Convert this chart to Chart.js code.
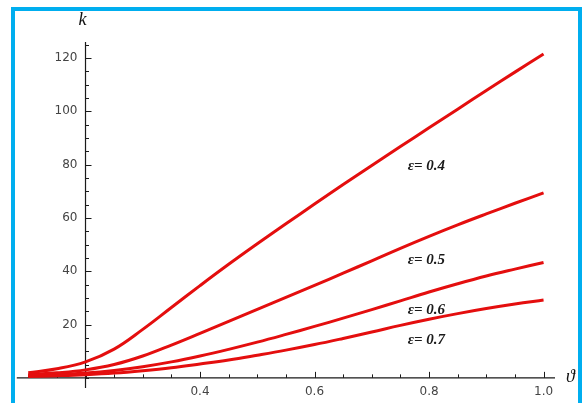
<!DOCTYPE html>
<html>
<head>
<meta charset="utf-8">
<script src="https://cdn.jsdelivr.net/npm/chart.js@4/dist/chart.umd.min.js"></script>
<style>
  html, body { margin: 0; padding: 0; background: #ffffff; }
  #wrap { position: relative; width: 582px; height: 403px; }
</style>
</head>
<body>
<div id="wrap"><canvas id="chart" width="582" height="403"></canvas></div>
<script>
// θ values along the horizontal axis
const theta = [0.10, 0.15, 0.20, 0.25, 0.30, 0.35, 0.40, 0.45, 0.50, 0.55,
               0.60, 0.65, 0.70, 0.75, 0.80, 0.85, 0.90, 0.95, 1.00];

// k for each ε
const kEps04 = [1.9, 3.4, 6.0, 10.8, 18.2, 26.4, 34.6, 42.6, 50.3, 57.8,
                65.2, 72.5, 79.7, 86.8, 93.8, 100.8, 107.8, 114.7, 121.5];
const kEps05 = [1.2, 1.9, 3.0, 5.0, 8.2, 12.3, 16.7, 21.2, 25.7, 30.2,
                34.7, 39.3, 43.9, 48.6, 53.1, 57.4, 61.5, 65.5, 69.4];
const kEps06 = [0.8, 1.2, 1.8, 2.8, 4.2, 6.0, 8.2, 10.7, 13.4, 16.3,
                19.3, 22.4, 25.6, 28.9, 32.2, 35.3, 38.2, 40.8, 43.3];
const kEps07 = [0.5, 0.8, 1.2, 1.8, 2.7, 3.8, 5.2, 6.7, 8.5, 10.4,
                12.5, 14.8, 17.2, 19.7, 22.0, 24.1, 26.0, 27.7, 29.2];

const seriesNames = ['ε= 0.4', 'ε= 0.5', 'ε= 0.6', 'ε= 0.7'];
// where each series name starts, in (θ, k)
const nameTheta = [0.763, 0.763, 0.763, 0.763];
const nameK = [79.3, 44.3, 25.5, 14.3];

// axis ticks
const xMajorTicks = [0.2, 0.4, 0.6, 0.8, 1.0];
const xTickLabels = [0.4, 0.6, 0.8, 1.0];
const yMajorTicks = [20, 40, 60, 80, 100, 120];
const yTickLabels = [20, 40, 60, 80, 100, 120];
const xMinorStep = 0.05;
const yMinorStep = 5;

const AXIS_THETA = 0.2;   // vertical axis crosses here
const AXIS_K = 0;         // horizontal axis crosses here

function toPoints(ys) {
  return theta.map((t, i) => ({ x: t, y: ys[i] }));
}

const frame = {
  id: 'frame',
  beforeDraw(chart) {
    const ctx = chart.ctx;
    ctx.save();
    ctx.fillStyle = '#ffffff';
    ctx.fillRect(0, 0, chart.width, chart.height);
    ctx.strokeStyle = '#00aeef';
    ctx.lineWidth = 4;
    ctx.strokeRect(13, 9, 567, 420);
    ctx.restore();
  }
};

const axes = {
  id: 'axes',
  beforeDatasetsDraw(chart) {
    const ctx = chart.ctx;
    const xs = chart.scales.x, ys = chart.scales.y;
    const area = chart.chartArea;
    const x0 = xs.getPixelForValue(AXIS_THETA);
    const y0 = ys.getPixelForValue(AXIS_K);
    ctx.save();
    ctx.strokeStyle = '#1a1a1a';
    ctx.lineWidth = 1.2;
    ctx.beginPath();
    ctx.moveTo(area.left, y0); ctx.lineTo(area.right, y0);
    ctx.moveTo(x0, area.top); ctx.lineTo(x0, area.bottom);
    ctx.stroke();

    // x ticks (pointing up)
    ctx.lineWidth = 1;
    ctx.beginPath();
    const xMinN = Math.ceil(xs.min / xMinorStep - 1e-6);
    const xMaxN = Math.floor(xs.max / xMinorStep + 1e-6);
    for (let n = xMinN; n <= xMaxN; n++) {
      const v = n * xMinorStep;
      const major = xMajorTicks.some(m => Math.abs(m - v) < 1e-6);
      const px = Math.round(xs.getPixelForValue(v)) + 0.5;
      ctx.moveTo(px, y0);
      ctx.lineTo(px, y0 - (major ? 6 : 3.5));
    }
    // y ticks (pointing right)
    const yMinN = Math.ceil(Math.max(ys.min, 0) / yMinorStep);
    const yMaxN = Math.floor(ys.max / yMinorStep);
    for (let n = yMinN; n <= yMaxN; n++) {
      const v = n * yMinorStep;
      const major = yMajorTicks.includes(v);
      const py = Math.round(ys.getPixelForValue(v)) + 0.5;
      ctx.moveTo(x0, py);
      ctx.lineTo(x0 + (major ? 6 : 3.5), py);
    }
    ctx.stroke();

    // tick labels
    ctx.fillStyle = '#444444';
    ctx.font = '12px "DejaVu Sans", sans-serif';
    ctx.textAlign = 'center';
    ctx.textBaseline = 'middle';
    xTickLabels.forEach(v => {
      ctx.fillText(v.toFixed(1), xs.getPixelForValue(v), y0 + 14);
    });
    ctx.textAlign = 'right';
    yTickLabels.forEach(v => {
      ctx.fillText(String(v), x0 - 8, ys.getPixelForValue(v));
    });

    // axis names
    ctx.fillStyle = '#111111';
    ctx.font = 'italic 18px "Liberation Serif", "DejaVu Serif", serif';
    ctx.textAlign = 'center';
    ctx.fillText('k', x0 - 3, area.top - 22);
    ctx.textAlign = 'left';
    ctx.fillText('ϑ', area.right + 11, y0 - 1);
    ctx.restore();
  },
  afterDatasetsDraw(chart) {
    const ctx = chart.ctx;
    const xs = chart.scales.x, ys = chart.scales.y;
    ctx.save();
    ctx.fillStyle = '#1a1a1a';
    ctx.font = 'italic bold 15px "Liberation Serif", "DejaVu Serif", serif';
    ctx.textAlign = 'left';
    ctx.textBaseline = 'middle';
    seriesNames.forEach((name, i) => {
      ctx.fillText(name, xs.getPixelForValue(nameTheta[i]), ys.getPixelForValue(nameK[i]));
    });
    ctx.restore();
  }
};

const lineStyle = {
  borderColor: 'rgb(228, 14, 14)',
  borderWidth: 3,
  pointRadius: 0,
  fill: false,
  tension: 0.4
};

new Chart(document.getElementById('chart'), {
  type: 'line',
  data: {
    datasets: [
      Object.assign({ label: seriesNames[0], data: toPoints(kEps04) }, lineStyle),
      Object.assign({ label: seriesNames[1], data: toPoints(kEps05) }, lineStyle),
      Object.assign({ label: seriesNames[2], data: toPoints(kEps06) }, lineStyle),
      Object.assign({ label: seriesNames[3], data: toPoints(kEps07) }, lineStyle)
    ]
  },
  options: {
    responsive: false,
    animation: false,
    devicePixelRatio: 1,
    layout: { padding: { left: 16.8, right: 27, top: 42, bottom: 15 } },
    plugins: { legend: { display: false }, tooltip: { enabled: false } },
    scales: {
      x: { type: 'linear', min: 0.08, max: 1.02, display: false },
      y: { type: 'linear', min: -3.8, max: 126, display: false }
    }
  },
  plugins: [frame, axes]
});
</script>
</body>
</html>
